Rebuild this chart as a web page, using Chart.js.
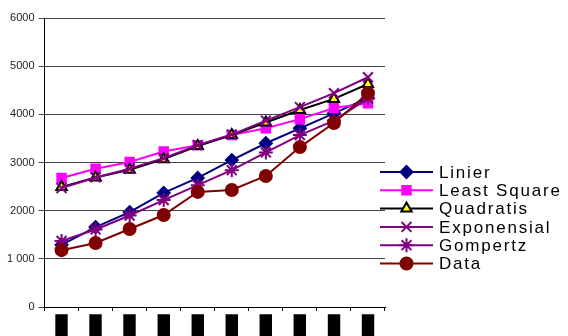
<!DOCTYPE html>
<html>
<head>
<meta charset="utf-8">
<script src="https://cdn.jsdelivr.net/npm/chart.js@4/dist/chart.umd.min.js"></script>
<style>
  html, body { margin: 0; padding: 0; background: #fff; }
  #wrap { width: 568px; height: 336px; overflow: hidden; }
</style>
</head>
<body>
<div id="wrap"><canvas id="myChart" width="568" height="336"></canvas></div>
<script>
// categories (the original labels render as solid black boxes)
var categories = ["█", "█", "█", "█", "█", "█", "█", "█", "█", "█"];
var yLabels = { 0: "0", 1000: "1 000", 2000: "2000", 3000: "3000", 4000: "4000", 5000: "5000", 6000: "6000" };

var linier      = [1290, 1660, 1970, 2370, 2680, 3050, 3400, 3710, 4020, 4340];
var leastSquare = [2680, 2870, 3010, 3230, 3360, 3570, 3710, 3900, 4130, 4230];
var quadratis   = [2490, 2690, 2850, 3070, 3340, 3570, 3830, 4090, 4320, 4630];
var exponensial = [2470, 2690, 2870, 3090, 3360, 3580, 3870, 4150, 4440, 4770];
var gompertz    = [1370, 1610, 1900, 2220, 2530, 2840, 3210, 3570, 3870, 4330];
var dataReal    = [1180, 1330, 1620, 1910, 2390, 2430, 2720, 3320, 3820, 4440];

var seriesNames = ["Linier", "Least Square", "Quadratis", "Exponensial", "Gompertz", "Data"];

// legend drawn on the canvas, lines with markers like the original
var sideLegend = {
  id: "sideLegend",
  afterDraw: function(chart) {
    var ctx = chart.ctx;
    var area = chart.chartArea;
    var x0 = area.right - 5;
    var x1 = area.right + 48;
    var xm = (x0 + x1) / 2;
    var y = 172;
    ctx.save();
    chart.data.datasets.forEach(function(ds) {
      ctx.strokeStyle = ds.borderColor;
      ctx.lineWidth = 2;
      ctx.beginPath();
      ctx.moveTo(x0, y);
      ctx.lineTo(x1, y);
      ctx.stroke();
      ctx.fillStyle = ds.pointBackgroundColor;
      ctx.strokeStyle = ds.pointBorderColor;
      ctx.lineWidth = ds.pointBorderWidth;
      Chart.helpers.drawPoint(ctx, { pointStyle: ds.pointStyle, radius: ds.pointRadius, borderWidth: ds.pointBorderWidth }, xm, y);
      ctx.fillStyle = "#000";
      ctx.font = "17px 'Liberation Sans', Arial, sans-serif";
      ctx.letterSpacing = "1.8px";
      ctx.textBaseline = "middle";
      ctx.textAlign = "left";
      ctx.fillText(ds.label, x1 + 6, y + 1);
      ctx.letterSpacing = "0px";
      y += 18.3;
    });
    ctx.restore();
  }
};

function series(i, values, color, style, fill, border, radius, order) {
  return {
    label: seriesNames[i],
    data: values,
    borderColor: color,
    borderWidth: 2,
    pointStyle: style,
    pointRadius: radius,
    pointHoverRadius: radius,
    pointBackgroundColor: fill,
    pointBorderColor: border,
    pointBorderWidth: 2,
    tension: 0,
    order: order
  };
}

var ctx = document.getElementById("myChart").getContext("2d");
var chart = new Chart(ctx, {
  type: "line",
  data: {
    labels: categories,
    datasets: [
      series(0, linier, "#000080", "rectRot", "#000080", "#000080", 6, 6),
      series(1, leastSquare, "#FF00FF", "rect", "#FF00FF", "#FF00FF", 6, 5),
      series(2, quadratis, "#000000", "triangle", "#FFFF00", "#000000", 6, 4),
      series(3, exponensial, "#800080", "crossRot", "#800080", "#800080", 7, 3),
      series(4, gompertz, "#800080", "star", "#800080", "#800080", 7, 2),
      series(5, dataReal, "#800000", "circle", "#800000", "#800000", 6, 1)
    ]
  },
  plugins: [sideLegend],
  options: {
    responsive: false,
    animation: false,
    layout: { padding: { top: 18, right: 183, bottom: -9, left: 3 } },
    plugins: { legend: { display: false }, tooltip: { enabled: false } },
    scales: {
      x: {
        offset: true,
        grid: { offset: true, drawOnChartArea: false, color: "#000", tickLength: 4 },
        border: { color: "#000", width: 1 },
        ticks: { color: "#000", font: { family: "'DejaVu Sans Mono'", size: 20, lineHeight: 1 }, padding: 7, maxRotation: 0, autoSkip: false }
      },
      y: {
        min: 0,
        max: 6000,
        grid: { color: "#444", tickLength: 6 },
        border: { color: "#000", width: 1 },
        ticks: {
          stepSize: 1000,
          color: "#222",
          padding: 4,
          font: { family: "'Liberation Sans', Arial, sans-serif", size: 11 },
          callback: function(v) { return yLabels[v]; }
        }
      }
    }
  }
});
</script>
</body>
</html>
